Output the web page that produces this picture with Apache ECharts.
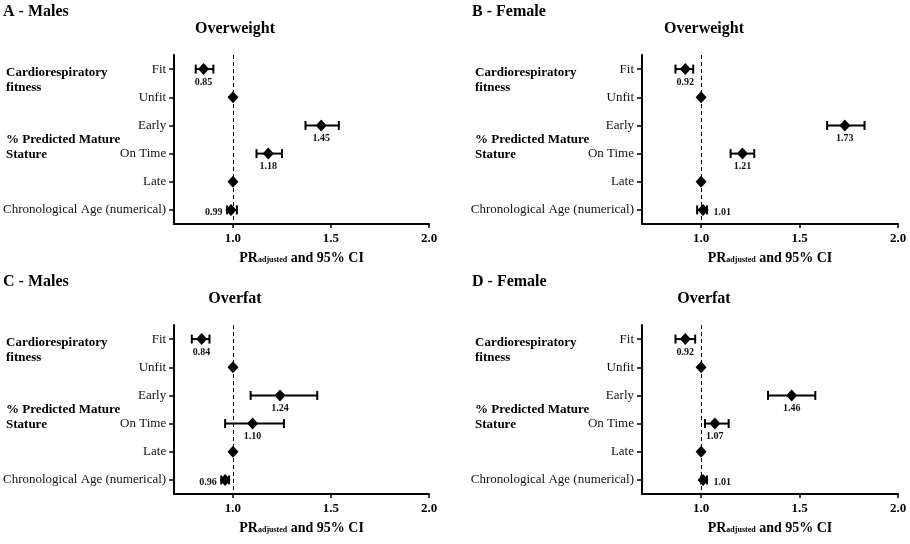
<!DOCTYPE html>
<html><head><meta charset="utf-8">
<script src="https://cdn.jsdelivr.net/npm/echarts@6/dist/echarts.min.js"></script>
<style>html,body{margin:0;padding:0;background:#fff}#c{width:910px;height:544px}</style>
</head><body><div id="c"></div>
<script>
// ---- data ----
const categories = ['Fit', 'Unfit', 'Early', 'On Time', 'Late', 'Chronological Age (numerical)'];
const xTicks = [1.0, 1.5, 2.0];
const panelLetters = ['A - Males', 'B - Female', 'C - Males', 'D - Female'];
const panelOutcomes = ['Overweight', 'Overweight', 'Overfat', 'Overfat'];
const groupLabels1 = ['Cardiorespiratory', 'fitness'];
const groupLabels2 = ['% Predicted Mature', 'Stature'];
const axisTitleMain = 'PR';
const axisTitleSub = 'adjusted';
const axisTitleTail = ' and 95% CI';

const estA = [0.85, 1.00, 1.45, 1.18, 1.00, 0.99];
const loA  = [0.81, null, 1.37, 1.12, null, 0.97];
const hiA  = [0.90, null, 1.54, 1.25, null, 1.02];

const estB = [0.92, 1.00, 1.73, 1.21, 1.00, 1.01];
const loB  = [0.87, null, 1.64, 1.15, null, 0.98];
const hiB  = [0.96, null, 1.83, 1.27, null, 1.03];

const estC = [0.84, 1.00, 1.24, 1.10, 1.00, 0.96];
const loC  = [0.79, null, 1.09, 0.96, null, 0.94];
const hiC  = [0.88, null, 1.43, 1.26, null, 0.98];

const estD = [0.92, 1.00, 1.46, 1.07, 1.00, 1.01];
const loD  = [0.87, null, 1.34, 1.02, null, 1.00];
const hiD  = [0.97, null, 1.58, 1.14, null, 1.03];

const xMin = 0.7, xMax = 2.0, refValue = 1.0;

// ---- layout / style ----
const SERIF = '"Liberation Serif","Times New Roman",serif';
const panels = [
  {est: estA, lo: loA, hi: hiA, left: 173, top: 55, chronoPos: 'left'},
  {est: estB, lo: loB, hi: hiB, left: 642, top: 55, chronoPos: 'right'},
  {est: estC, lo: loC, hi: hiC, left: 173, top: 325, chronoPos: 'left'},
  {est: estD, lo: loD, hi: hiD, left: 642, top: 325, chronoPos: 'right'}
];
const GW = 256, GH = 169;

const grid = [], xAxis = [], yAxis = [], series = [], graphic = [];

function renderErr(params, api) {
  const y = api.value(2);
  const p1 = api.coord([api.value(0), y]);
  const p2 = api.coord([api.value(1), y]);
  const h = 4.5;
  const st = {stroke: '#000', lineWidth: 2};
  return {type: 'group', children: [
    {type: 'line', shape: {x1: p1[0], y1: p1[1], x2: p2[0], y2: p2[1]}, style: st},
    {type: 'line', shape: {x1: p1[0], y1: p1[1] - h, x2: p1[0], y2: p1[1] + h}, style: st},
    {type: 'line', shape: {x1: p2[0], y1: p2[1] - h, x2: p2[0], y2: p2[1] + h}, style: st}
  ]};
}

panels.forEach((p, k) => {
  grid.push({left: p.left, top: p.top, width: GW, height: GH, containLabel: false});
  xAxis.push({
    type: 'value', gridIndex: k, min: xMin, max: xMax,
    axisLine: {show: true, onZero: false, lineStyle: {color: '#000', width: 2}},
    axisTick: {show: true, customValues: xTicks, length: 4, lineStyle: {color: '#000', width: 1.5}},
    axisLabel: {customValues: xTicks, formatter: v => v.toFixed(1), color: '#000',
      fontFamily: SERIF, fontWeight: 'bold', fontSize: 13, margin: 8},
    splitLine: {show: false},
    name: '{m|' + axisTitleMain + '}{s|' + axisTitleSub + '}{m|' + axisTitleTail + '}',
    nameLocation: 'middle', nameGap: 27,
    nameTextStyle: {rich: {
      m: {fontFamily: SERIF, fontWeight: 'bold', fontSize: 14, color: '#000'},
      s: {fontFamily: SERIF, fontWeight: 'bold', fontSize: 8, color: '#000', padding: [4, 0, 0, 0]}
    }}
  });
  yAxis.push({
    type: 'category', gridIndex: k, data: categories, inverse: true,
    axisLine: {show: true, lineStyle: {color: '#000', width: 2}},
    axisTick: {show: true, alignWithLabel: true, length: 5, lineStyle: {color: '#000', width: 1.5}},
    axisLabel: {color: '#111', fontFamily: SERIF, fontSize: 13, margin: 8},
    splitLine: {show: false}
  });
  // error bars
  const errData = [];
  p.lo.forEach((lo, i) => { if (lo != null && p.hi[i] != null) errData.push([lo, p.hi[i], i]); });
  series.push({
    type: 'custom', xAxisIndex: k, yAxisIndex: k, renderItem: renderErr,
    encode: {x: [0, 1], y: 2}, data: errData, silent: true, z: 3
  });
  // points
  series.push({
    type: 'scatter', xAxisIndex: k, yAxisIndex: k, symbol: 'diamond', symbolSize: [11, 12],
    itemStyle: {color: '#000', opacity: 1}, z: 4,
    data: p.est.map((v, i) => {
      const hasCI = p.lo[i] != null;
      const lab = {show: hasCI, formatter: v.toFixed(2), color: '#111',
        fontFamily: SERIF, fontWeight: 'bold', fontSize: 10};
      if (i === categories.length - 1) {
        lab.position = p.chronoPos; lab.distance = p.chronoPos === 'left' ? 3 : 5; lab.offset = [0, 3];
      } else {
        lab.position = 'bottom'; lab.distance = 2;
      }
      return {value: [v, i], label: lab};
    }),
    markLine: {
      silent: true, symbol: ['none', 'none'], animation: false,
      label: {show: false},
      lineStyle: {type: [4, 3], color: '#000', width: 1},
      data: [{xAxis: refValue}]
    }
  });
  // texts
  const gx = p.left - 170;
  graphic.push({type: 'text', x: gx, y: p.top - 43, style: {text: panelLetters[k],
    font: 'bold 16px ' + SERIF, fill: '#000', textAlign: 'left', textVerticalAlign: 'middle',
    align: 'left', verticalAlign: 'middle'}});
  graphic.push({type: 'text', x: p.left + 62, y: p.top - 26, style: {text: panelOutcomes[k],
    font: 'bold 16px ' + SERIF, fill: '#000', textAlign: 'center', textVerticalAlign: 'middle',
    align: 'center', verticalAlign: 'middle'}});
  const lx = p.left - 167;
  [[groupLabels1[0], 18], [groupLabels1[1], 33], [groupLabels2[0], 85], [groupLabels2[1], 100]].forEach(([t, dy]) => {
    graphic.push({type: 'text', x: lx, y: p.top + dy, style: {text: t,
      font: 'bold 13px ' + SERIF, fill: '#000', textAlign: 'left', textVerticalAlign: 'middle',
      align: 'left', verticalAlign: 'middle'}});
  });
});

const chart = echarts.init(document.getElementById('c'), null, {renderer: 'canvas'});
chart.setOption({
  backgroundColor: '#fff', animation: false,
  grid, xAxis, yAxis, series, graphic
});
</script>
</body></html>
